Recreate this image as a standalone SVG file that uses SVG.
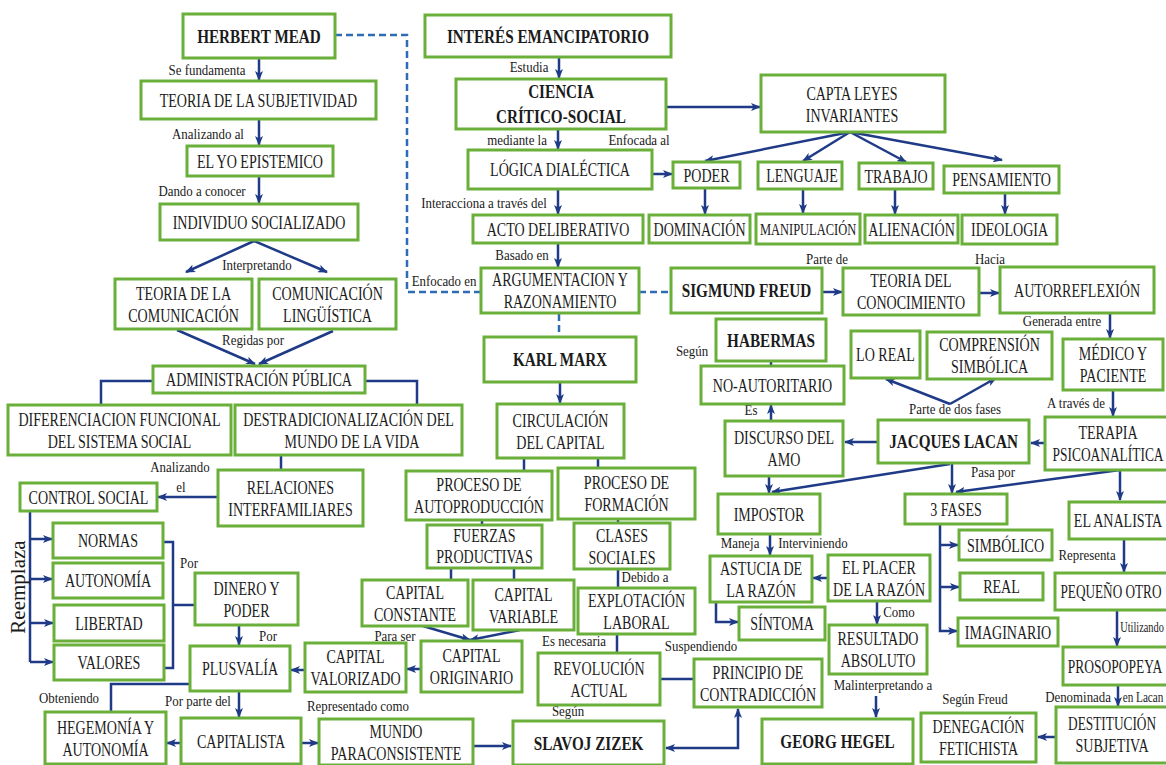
<svg xmlns="http://www.w3.org/2000/svg" width="1166" height="765" viewBox="0 0 1166 765">
<style>
  .n rect { fill: #fff; stroke: #6aaf3a; stroke-width: 3; }
  text { font-family: "Liberation Serif", "Times New Roman", serif; fill: #1b1b1b; text-anchor: middle; }
  .t, .b, .l { transform-box: fill-box; transform-origin: center; }
  .t { font-size: 18px; transform: scaleX(.78); }
  .b { font-size: 19px; font-weight: bold; transform: scaleX(.8); }
  .l { font-size: 15px; transform: scaleX(.86); }
  .s { font-size: 16px; transform: scaleX(.78); transform-box: fill-box; transform-origin: center; }
  .v { font-size: 21px; }
  #connectors path { fill: none; stroke: #1f3b87; stroke-width: 2.5; }
  #connectors path.a { marker-end: url(#arr); }
  #connectors path.aa { marker-start: url(#arr); marker-end: url(#arr); }
  #connectors path.d { stroke: #2e6db5; stroke-dasharray: 7 4; }
</style>
<defs>
  <marker id="arr" viewBox="0 0 10 8" refX="9" refY="4" markerWidth="10" markerHeight="8" markerUnits="userSpaceOnUse" orient="auto-start-reverse">
    <path d="M0,0 L10,4 L0,8 L2.5,4 z" fill="#1f3b87"/>
  </marker>
</defs>
<rect width="1166" height="765" fill="#fff"/>

<g id="connectors">
  <!-- Mead column -->
  <path class="a" d="M259,58 V80"/>
  <path class="a" d="M259,119 V145"/>
  <path class="a" d="M259,176 V203"/>
  <path class="a" d="M254,241 L186,272"/>
  <path class="a" d="M254,241 L327,272"/>
  <path class="a" d="M177,330 L255,364"/>
  <path class="a" d="M333,331 L259,364"/>
  <path d="M153,381 H101 V405"/>
  <path d="M365,381 H417 V405"/>
  <path d="M281,455 V470"/>
  <path class="a" d="M218,497 H158"/>
  <path d="M30,511 V662"/>
  <path class="a" d="M30,539 H52"/>
  <path class="a" d="M30,579 H52"/>
  <path class="a" d="M30,623 H53"/>
  <path class="a" d="M30,662 H53"/>
  <path d="M163,542 H173 V668 H164 M173,605 H195"/>
  <path class="a" d="M239,625 V645"/>
  <path class="a" d="M305,670 H291"/>
  <path class="a" d="M421,669 H407"/>
  <path class="a" d="M423,626 L470,640"/>
  <path class="a" d="M520,630 L470,640"/>
  <path d="M190,684 H111 V712"/>
  <path class="a" d="M239,691 V717"/>
  <path class="a" d="M181,743 H167"/>
  <path class="a" d="M301,743 H318"/>
  <path class="a" d="M473,746 H511"/>
  <path class="aa" d="M666,748 H738 V709"/>
  <path d="M660,679 H694"/>
  <path d="M617,634 V653"/>
  <path d="M618,569 V588"/>
  <path d="M618,519 V523"/>
  <path d="M482,520 V525"/>
  <path d="M451,568 V580"/>
  <path d="M514,568 V580"/>
  <path d="M524,458 V471"/>
  <path d="M598,458 V468"/>
  <path class="a" d="M560,382 V403"/>
  <!-- dashed links -->
  <path class="d" d="M335,35 H407 V292 H481"/>
  <path class="d" d="M559,314 V337"/>
  <path class="d" d="M639,292 H671"/>
  <!-- Freud / Lacan side -->
  <path class="a" d="M822,292 H842"/>
  <path class="a" d="M979,293 H999"/>
  <path class="a" d="M1110,313 V338"/>
  <path class="a" d="M1113,390 V416"/>
  <path class="a" d="M1045,443 H1031"/>
  <path class="a" d="M878,442 H845"/>
  <path class="a" d="M950,404 L886,379"/>
  <path class="a" d="M950,404 L996,378"/>
  <path d="M771,361 V366"/>
  <path class="a" d="M771,421 V405"/>
  <path class="a" d="M769,476 V493"/>
  <path class="a" d="M950,464 L772,492"/>
  <path class="a" d="M952,464 V493"/>
  <path class="a" d="M1120,470 L956,492"/>
  <path class="a" d="M1120,470 V500"/>
  <path class="a" d="M770,535 V555"/>
  <path class="a" d="M716,602 V622 H738"/>
  <path class="a" d="M828,578 H813"/>
  <path class="a" d="M877,601 V624"/>
  <path class="a" d="M876,696 V717"/>
  <path class="a" d="M940,524 V631 H957"/>
  <path class="a" d="M940,545 H958"/>
  <path class="a" d="M940,587 H959"/>
  <path class="a" d="M1124,539 V572"/>
  <path class="a" d="M1117,610 V646"/>
  <path class="a" d="M1118,685 V706"/>
  <path class="a" d="M1056,737 H1038"/>
  <!-- top centre -->
  <path class="a" d="M559,57 V78"/>
  <path class="a" d="M666,107 H760"/>
  <path class="a" d="M558,129 V149"/>
  <path class="a" d="M652,174 H672"/>
  <path class="a" d="M850,132 L705,161"/>
  <path class="a" d="M850,132 L803,161"/>
  <path class="a" d="M850,132 L906,162"/>
  <path class="a" d="M850,132 L1002,160"/>
  <path class="a" d="M705,188 V214"/>
  <path class="a" d="M803,189 V213"/>
  <path class="a" d="M895,189 V214"/>
  <path class="a" d="M1005,193 V214"/>
  <path class="a" d="M558,189 V214"/>
  <path class="a" d="M558,243 V267"/>
</g>

<g id="labels">
  <text class="l" x="207" y="75">Se fundamenta</text>
  <text class="l" x="208" y="139">Analizando  al</text>
  <text class="l" x="202" y="196">Dando a conocer</text>
  <text class="l" x="257" y="270">Interpretando</text>
  <text class="l" x="253" y="345">Regidas por</text>
  <text class="l" x="180" y="472">Analizando</text>
  <text class="l" x="181" y="492">el</text>
  <text class="l" x="189" y="568">Por</text>
  <text class="l" x="268" y="641">Por</text>
  <text class="l" x="69" y="703">Obteniendo</text>
  <text class="l" x="198" y="706">Por parte del</text>
  <text class="l" x="358" y="711">Representado como</text>
  <text class="l" x="395" y="641">Para ser</text>
  <text class="l" x="574" y="646">Es necesaria</text>
  <text class="l" x="645" y="582">Debido a</text>
  <text class="l" x="701" y="651">Suspendiendo</text>
  <text class="l" x="568" y="716">Según</text>
  <text class="l" x="529" y="72">Estudia</text>
  <text class="l" x="517" y="145">mediante la</text>
  <text class="l" x="639" y="145">Enfocada al</text>
  <text class="l" x="484" y="208">Interacciona  a través del</text>
  <text class="l" x="522" y="260">Basado en</text>
  <text class="l" x="444" y="286">Enfocado en</text>
  <text class="l" x="827" y="264">Parte de</text>
  <text class="l" x="990" y="264">Hacia</text>
  <text class="l" x="1062" y="326">Generada entre</text>
  <text class="l" x="692" y="356">Según</text>
  <text class="l" x="751" y="415">Es</text>
  <text class="l" x="955" y="414">Parte de dos fases</text>
  <text class="l" x="1076" y="408">A través de</text>
  <text class="l" x="993" y="477">Pasa por</text>
  <text class="l" x="740" y="548">Maneja</text>
  <text class="l" x="813" y="548">Interviniendo</text>
  <text class="l" x="899" y="617">Como</text>
  <text class="l" x="883" y="690">Malinterpretando  a</text>
  <text class="l" x="975" y="704">Según Freud</text>
  <text class="l" x="1087" y="560">Representa</text>
  <text class="l" x="1142" y="632" style="font-size:14px;transform:scaleX(.74)">Utilizando</text>
  <text class="l" x="1078" y="702">Denominada</text>
  <text class="l" x="1143" y="702" style="font-size:14px;transform:scaleX(.8)">en Lacan</text>
  <text class="v" transform="translate(25,587) rotate(-90)">Reemplaza</text>
</g>

<!-- Mead branch -->
<g id="mead" class="n"><rect x="183" y="14" width="152" height="44"/><text class="b" x="259" y="43">HERBERT MEAD</text></g>
<g id="subjetividad" class="n"><rect x="141" y="81" width="235" height="38"/><text class="t" x="258.5" y="107">TEORIA DE LA SUBJETIVIDAD</text></g>
<g id="yo" class="n"><rect x="187" y="146" width="146" height="30"/><text class="t" x="260" y="168">EL YO EPISTEMICO</text></g>
<g id="individuo" class="n"><rect x="160" y="204" width="198" height="36"/><text class="t" x="259" y="229">INDIVIDUO  SOCIALIZADO</text></g>
<g id="teoria-comunicacion" class="n"><rect x="115" y="279" width="137" height="50"/><text class="t" x="183.5" y="300">TEORIA DE LA</text><text class="t" x="183.5" y="322">COMUNICACIÓN</text></g>
<g id="comunicacion-linguistica" class="n"><rect x="259" y="279" width="137" height="50"/><text class="t" x="327.5" y="300">COMUNICACIÓN</text><text class="t" x="327.5" y="322">LINGÜÍSTICA</text></g>
<g id="administracion" class="n"><rect x="153" y="366" width="212" height="27"/><text class="t" x="259" y="386">ADMINISTRACIÓN  PÚBLICA</text></g>
<g id="diferenciacion" class="n"><rect x="8" y="405" width="223" height="50"/><text class="t" x="119.5" y="426">DIFERENCIACION  FUNCIONAL</text><text class="t" x="119.5" y="448">DEL SISTEMA SOCIAL</text></g>
<g id="destradicionalizacion" class="n"><rect x="235" y="405" width="227" height="50"/><text class="t" x="348.5" y="426">DESTRADICIONALIZACIÓN  DEL</text><text class="t" x="352" y="448">MUNDO DE LA VIDA</text></g>
<g id="relaciones" class="n"><rect x="218" y="470" width="145" height="56"/><text class="t" x="290.5" y="494">RELACIONES</text><text class="t" x="290.5" y="516">INTERFAMILIARES</text></g>
<g id="control" class="n"><rect x="20" y="483" width="137" height="28"/><text class="t" x="88.5" y="504">CONTROL SOCIAL</text></g>
<g id="normas" class="n"><rect x="53" y="523" width="110" height="35"/><text class="t" x="108" y="547">NORMAS</text></g>
<g id="autonomia" class="n"><rect x="53" y="563" width="110" height="35"/><text class="t" x="108" y="587">AUTONOMÍA</text></g>
<g id="libertad" class="n"><rect x="54" y="605" width="110" height="36"/><text class="t" x="109" y="630">LIBERTAD</text></g>
<g id="valores" class="n"><rect x="54" y="645" width="110" height="35"/><text class="t" x="109" y="669">VALORES</text></g>
<g id="dinero" class="n"><rect x="195" y="573" width="103" height="52"/><text class="t" x="246.5" y="595">DINERO Y</text><text class="t" x="246.5" y="617">PODER</text></g>
<g id="plusvalia" class="n"><rect x="190" y="646" width="100" height="45"/><text class="t" x="240" y="675">PLUSVALÍA</text></g>
<g id="capital-valorizado" class="n"><rect x="305" y="643" width="101" height="49"/><text class="t" x="355.5" y="663">CAPITAL</text><text class="t" x="355.5" y="685">VALORIZADO</text></g>
<g id="hegemonia" class="n"><rect x="45" y="712" width="121" height="52"/><text class="t" x="105.5" y="734">HEGEMONÍA Y</text><text class="t" x="105.5" y="756">AUTONOMÍA</text></g>
<g id="capitalista" class="n"><rect x="181" y="718" width="120" height="46"/><text class="t" x="241" y="748">CAPITALISTA</text></g>
<g id="mundo" class="n"><rect x="319" y="719" width="154" height="46"/><text class="t" x="396" y="738">MUNDO</text><text class="t" x="396" y="760">PARACONSISTENTE</text></g>
<g id="zizek" class="n"><rect x="513" y="721" width="151" height="44"/><text class="b" x="588.5" y="750">SLAVOJ ZIZEK</text></g>
<g id="hegel" class="n"><rect x="762" y="719" width="151" height="45"/><text class="b" x="837.5" y="748">GEORG HEGEL</text></g>

<!-- Emancipatory interest -->
<g id="interes" class="n"><rect x="425" y="15" width="246" height="42"/><text class="b" x="548" y="43">INTERÉS EMANCIPATORIO</text></g>
<g id="ciencia" class="n"><rect x="456" y="79" width="210" height="50"/><text class="b" x="561" y="98">CIENCIA</text><text class="b" x="561" y="123">CRÍTICO-SOCIAL</text></g>
<g id="capta" class="n"><rect x="761" y="75" width="184" height="57"/><text class="t" x="852" y="100">CAPTA LEYES</text><text class="t" x="852" y="122">INVARIANTES</text></g>
<g id="logica" class="n"><rect x="468" y="150" width="184" height="39"/><text class="t" x="560" y="176">LÓGICA DIALÉCTICA</text></g>
<g id="poder" class="n"><rect x="673" y="162" width="67" height="26"/><text class="t" x="706.5" y="182">PODER</text></g>
<g id="lenguaje" class="n"><rect x="758" y="162" width="84" height="27"/><text class="t" x="802" y="182">LENGUAJE</text></g>
<g id="trabajo" class="n"><rect x="859" y="163" width="74" height="26"/><text class="t" x="896" y="183">TRABAJO</text></g>
<g id="pensamiento" class="n"><rect x="944" y="166" width="115" height="27"/><text class="t" x="1001.5" y="186">PENSAMIENTO</text></g>
<g id="dominacion" class="n"><rect x="649" y="215" width="101" height="28"/><text class="t" x="699.5" y="236">DOMINACIÓN</text></g>
<g id="manipulacion" class="n"><rect x="756" y="214" width="104" height="30"/><text class="s" x="808" y="235">MANIPULACIÓN</text></g>
<g id="alienacion" class="n"><rect x="865" y="215" width="93" height="28"/><text class="t" x="911.5" y="236">ALIENACIÓN</text></g>
<g id="ideologia" class="n"><rect x="962" y="215" width="95" height="29"/><text class="t" x="1009.5" y="236">IDEOLOGIA</text></g>
<g id="acto" class="n"><rect x="473" y="215" width="170" height="28"/><text class="t" x="558" y="236">ACTO DELIBERATIVO</text></g>
<g id="argumentacion" class="n"><rect x="481" y="268" width="158" height="45"/><text class="t" x="560" y="286">ARGUMENTACION  Y</text><text class="t" x="560" y="308">RAZONAMIENTO</text></g>

<!-- Marx branch -->
<g id="marx" class="n"><rect x="484" y="337" width="152" height="45"/><text class="b" x="560" y="366">KARL MARX</text></g>
<g id="circulacion" class="n"><rect x="497" y="404" width="127" height="54"/><text class="t" x="560.5" y="427">CIRCULACIÓN</text><text class="t" x="560.5" y="449">DEL CAPITAL</text></g>
<g id="autoproduccion" class="n"><rect x="406" y="471" width="146" height="49"/><text class="t" x="479" y="491">PROCESO DE</text><text class="t" x="479" y="513">AUTOPRODUCCIÓN</text></g>
<g id="formacion" class="n"><rect x="558" y="468" width="137" height="51"/><text class="t" x="626.5" y="489">PROCESO DE</text><text class="t" x="626.5" y="511">FORMACIÓN</text></g>
<g id="fuerzas" class="n"><rect x="427" y="525" width="115" height="43"/><text class="t" x="484.5" y="542">FUERZAS</text><text class="t" x="484.5" y="563">PRODUCTIVAS</text></g>
<g id="clases" class="n"><rect x="574" y="523" width="96" height="46"/><text class="t" x="622" y="542">CLASES</text><text class="t" x="622" y="564">SOCIALES</text></g>
<g id="constante" class="n"><rect x="362" y="580" width="106" height="46"/><text class="t" x="415" y="599">CAPITAL</text><text class="t" x="415" y="621">CONSTANTE</text></g>
<g id="variable" class="n"><rect x="473" y="580" width="101" height="50"/><text class="t" x="523.5" y="601">CAPITAL</text><text class="t" x="523.5" y="623">VARIABLE</text></g>
<g id="explotacion" class="n"><rect x="578" y="588" width="117" height="46"/><text class="t" x="636.5" y="607">EXPLOTACIÓN</text><text class="t" x="636.5" y="629">LABORAL</text></g>
<g id="originario" class="n"><rect x="421" y="641" width="101" height="51"/><text class="t" x="471.5" y="662">CAPITAL</text><text class="t" x="471.5" y="684">ORIGINARIO</text></g>
<g id="revolucion" class="n"><rect x="538" y="653" width="122" height="52"/><text class="t" x="599" y="675">REVOLUCIÓN</text><text class="t" x="599" y="697">ACTUAL</text></g>
<g id="contradiccion" class="n"><rect x="694" y="659" width="128" height="48"/><text class="t" x="758" y="679">PRINCIPIO  DE</text><text class="t" x="758" y="701">CONTRADICCIÓN</text></g>

<!-- Freud / Habermas / Lacan -->
<g id="freud" class="n"><rect x="671" y="268" width="151" height="45"/><text class="b" x="746.5" y="297">SIGMUND FREUD</text></g>
<g id="conocimiento" class="n"><rect x="843" y="268" width="136" height="47"/><text class="t" x="911" y="287">TEORIA DEL</text><text class="t" x="911" y="309">CONOCIMIENTO</text></g>
<g id="autorreflexion" class="n"><rect x="1000" y="267" width="154" height="46"/><text class="t" x="1077" y="297">AUTORREFLEXIÓN</text></g>
<g id="medico" class="n"><rect x="1063" y="339" width="100" height="51"/><text class="t" x="1113" y="360">MÉDICO Y</text><text class="t" x="1113" y="382">PACIENTE</text></g>
<g id="terapia" class="n"><rect x="1045" y="417" width="135" height="53"/><text class="t" x="1108" y="439">TERAPIA</text><text class="t" x="1108" y="461" style="transform:scaleX(.745)">PSICOANALÍTICA</text></g>
<g id="lacan" class="n"><rect x="878" y="420" width="151" height="43"/><text class="b" x="953.5" y="448">JACQUES LACAN</text></g>
<g id="lo-real" class="n"><rect x="851" y="331" width="69" height="47"/><text class="t" x="885.5" y="361">LO REAL</text></g>
<g id="comprension" class="n"><rect x="927" y="332" width="125" height="47"/><text class="t" x="989.5" y="351">COMPRENSIÓN</text><text class="t" x="989.5" y="373">SIMBÓLICA</text></g>
<g id="habermas" class="n"><rect x="716" y="319" width="110" height="42"/><text class="b" x="771" y="347">HABERMAS</text></g>
<g id="no-autoritario" class="n"><rect x="701" y="366" width="143" height="38"/><text class="t" x="772.5" y="392">NO-AUTORITARIO</text></g>
<g id="discurso" class="n"><rect x="725" y="421" width="118" height="55"/><text class="t" x="784" y="444">DISCURSO DEL</text><text class="t" x="784" y="466">AMO</text></g>
<g id="impostor" class="n"><rect x="718" y="494" width="102" height="40"/><text class="t" x="769" y="521">IMPOSTOR</text></g>
<g id="astucia" class="n"><rect x="710" y="556" width="102" height="46"/><text class="t" x="761" y="575">ASTUCIA DE</text><text class="t" x="761" y="597">LA RAZÓN</text></g>
<g id="sintoma" class="n"><rect x="739" y="607" width="86" height="33"/><text class="t" x="782" y="630">SÍNTOMA</text></g>
<g id="placer" class="n"><rect x="828" y="555" width="102" height="46"/><text class="t" x="879" y="574">EL PLACER</text><text class="t" x="879" y="596">DE LA RAZÓN</text></g>
<g id="resultado" class="n"><rect x="829" y="625" width="98" height="49"/><text class="t" x="878" y="645">RESULTADO</text><text class="t" x="878" y="667">ABSOLUTO</text></g>
<g id="fases" class="n"><rect x="905" y="494" width="102" height="30"/><text class="t" x="956" y="516">3 FASES</text></g>
<g id="simbolico" class="n"><rect x="959" y="530" width="93" height="30"/><text class="t" x="1005.5" y="552">SIMBÓLICO</text></g>
<g id="real" class="n"><rect x="960" y="573" width="83" height="27"/><text class="t" x="1001.5" y="593">REAL</text></g>
<g id="imaginario" class="n"><rect x="958" y="618" width="100" height="28"/><text class="t" x="1008" y="639">IMAGINARIO</text></g>
<g id="analista" class="n"><rect x="1069" y="502" width="110" height="37"/><text class="t" x="1118" y="527">EL ANALISTA</text></g>
<g id="pequeno-otro" class="n"><rect x="1055" y="573" width="125" height="37"/><text class="t" x="1111" y="598" style="transform:scaleX(.735)">PEQUEÑO OTRO</text></g>
<g id="prosopopeya" class="n"><rect x="1063" y="647" width="118" height="38"/><text class="t" x="1115" y="673" style="transform:scaleX(.75)">PROSOPOPEYA</text></g>
<g id="destitucion" class="n"><rect x="1056" y="707" width="124" height="56"/><text class="t" x="1112" y="730" style="transform:scaleX(.74)">DESTITUCIÓN</text><text class="t" x="1112" y="752">SUBJETIVA</text></g>
<g id="denegacion" class="n"><rect x="921" y="713" width="115" height="49"/><text class="t" x="978.5" y="733">DENEGACIÓN</text><text class="t" x="978.5" y="755">FETICHISTA</text></g>
</svg>
